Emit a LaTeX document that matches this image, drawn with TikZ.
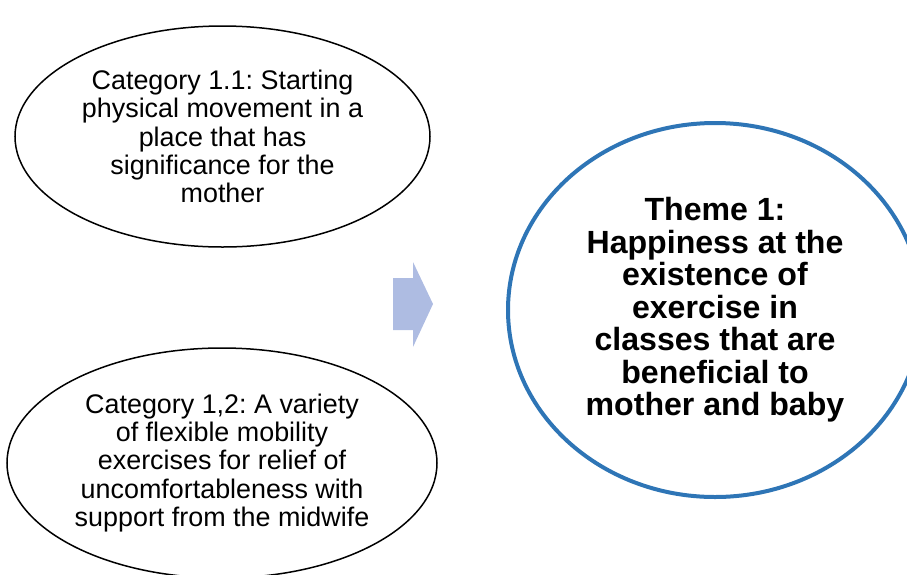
\documentclass[tikz,border=0pt]{standalone}
\usepackage{fontspec}
\setmainfont{Liberation Sans}
\usetikzlibrary{shapes.geometric}
\definecolor{themeblue}{RGB}{46,117,182}
\definecolor{arrowblue}{RGB}{174,188,226}
\frenchspacing

\begin{document}
\begin{tikzpicture}[x=1pt,y=-1pt,
        catnode/.style={shape=ellipse,draw=black,line width=1.5pt,inner sep=0pt,align=center,font=\fontsize{26.9}{28.3}\selectfont},
        themenode/.style={shape=ellipse,draw=themeblue,line width=4pt,inner sep=0pt,align=center,font=\fontsize{32.1}{32.5}\selectfont\bfseries}]
                \path[use as bounding box,clip] (0,0) rectangle (907,574);
                \node[catnode,minimum width=415pt,minimum height=221pt] (cat11) at (222.5,136.5) {Category 1.1: Starting\\physical movement in a\\place that has\\significance for the\\mother};
                \node[catnode,minimum width=430pt,minimum height=230pt] (cat12) at (222,463) {Category 1,2: A variety\\of flexible mobility\\exercises for relief of\\uncomfortableness with\\support from the midwife};
                \node[themenode,minimum width=414pt,minimum height=374pt] (theme) at (715,310) {Theme 1:\\Happiness at the\\existence of\\exercise in\\classes that are\\beneficial to\\mother and baby};
                \fill[arrowblue] (393,278) -- (413,278) -- (413,262) -- (433,304) -- (413,347) -- (413,330) -- (393,330) -- cycle;
            \end{tikzpicture}
\end{document}
